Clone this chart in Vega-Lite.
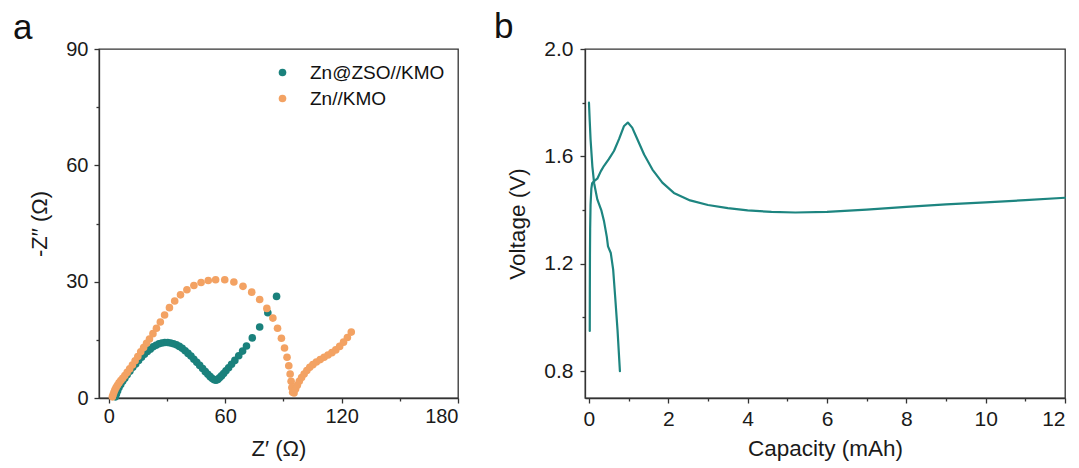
{
  "$schema": "https://vega.github.io/schema/vega-lite/v6.json",
  "padding": {"left": 12, "top": 9, "right": 2, "bottom": 2},
  "background": "white",
  "config": {
    "font": "Liberation Sans",
    "view": {"stroke": "#333333", "strokeWidth": 1.3},
    "axis": {
      "grid": false,
      "domainColor": "#333333",
      "domainWidth": 1.3,
      "tickColor": "#333333",
      "tickWidth": 1.3,
      "labelColor": "#1a1a1a",
      "titleColor": "#1a1a1a",
      "labelFont": "Liberation Sans",
      "titleFont": "Liberation Sans",
      "titleFontWeight": "normal"
    },
    "title": {"fontWeight": "normal", "fontSize": 35, "anchor": "start", "frame": "group", "color": "#111111", "baseline": "alphabetic", "offset": -7}
  },
  "datasets": {
    "eis": [
      {"cell": "Zn@ZSO//KMO", "zr": 3.5, "zi": 0.3},
      {"cell": "Zn@ZSO//KMO", "zr": 4.0, "zi": 1.1},
      {"cell": "Zn@ZSO//KMO", "zr": 4.6, "zi": 1.9},
      {"cell": "Zn@ZSO//KMO", "zr": 5.3, "zi": 2.7},
      {"cell": "Zn@ZSO//KMO", "zr": 6.2, "zi": 3.5},
      {"cell": "Zn@ZSO//KMO", "zr": 7.2, "zi": 4.3},
      {"cell": "Zn@ZSO//KMO", "zr": 8.3, "zi": 5.1},
      {"cell": "Zn@ZSO//KMO", "zr": 9.5, "zi": 6.0},
      {"cell": "Zn@ZSO//KMO", "zr": 10.9, "zi": 6.9},
      {"cell": "Zn@ZSO//KMO", "zr": 12.4, "zi": 7.9},
      {"cell": "Zn@ZSO//KMO", "zr": 13.9, "zi": 8.8},
      {"cell": "Zn@ZSO//KMO", "zr": 15.4, "zi": 9.7},
      {"cell": "Zn@ZSO//KMO", "zr": 16.9, "zi": 10.5},
      {"cell": "Zn@ZSO//KMO", "zr": 18.4, "zi": 11.3},
      {"cell": "Zn@ZSO//KMO", "zr": 19.9, "zi": 12.0},
      {"cell": "Zn@ZSO//KMO", "zr": 21.4, "zi": 12.6},
      {"cell": "Zn@ZSO//KMO", "zr": 22.9, "zi": 13.2},
      {"cell": "Zn@ZSO//KMO", "zr": 24.4, "zi": 13.6},
      {"cell": "Zn@ZSO//KMO", "zr": 25.9, "zi": 14.0},
      {"cell": "Zn@ZSO//KMO", "zr": 27.4, "zi": 14.2},
      {"cell": "Zn@ZSO//KMO", "zr": 28.9, "zi": 14.3},
      {"cell": "Zn@ZSO//KMO", "zr": 30.4, "zi": 14.3},
      {"cell": "Zn@ZSO//KMO", "zr": 31.9, "zi": 14.2},
      {"cell": "Zn@ZSO//KMO", "zr": 33.4, "zi": 14.0},
      {"cell": "Zn@ZSO//KMO", "zr": 34.9, "zi": 13.7},
      {"cell": "Zn@ZSO//KMO", "zr": 36.4, "zi": 13.3},
      {"cell": "Zn@ZSO//KMO", "zr": 37.9, "zi": 12.8},
      {"cell": "Zn@ZSO//KMO", "zr": 39.4, "zi": 12.2},
      {"cell": "Zn@ZSO//KMO", "zr": 40.9, "zi": 11.5},
      {"cell": "Zn@ZSO//KMO", "zr": 42.4, "zi": 10.8},
      {"cell": "Zn@ZSO//KMO", "zr": 43.9, "zi": 10.0},
      {"cell": "Zn@ZSO//KMO", "zr": 45.4, "zi": 9.2},
      {"cell": "Zn@ZSO//KMO", "zr": 46.9, "zi": 8.4},
      {"cell": "Zn@ZSO//KMO", "zr": 48.4, "zi": 7.6},
      {"cell": "Zn@ZSO//KMO", "zr": 49.8, "zi": 6.8},
      {"cell": "Zn@ZSO//KMO", "zr": 51.1, "zi": 6.1},
      {"cell": "Zn@ZSO//KMO", "zr": 52.3, "zi": 5.5},
      {"cell": "Zn@ZSO//KMO", "zr": 53.4, "zi": 5.0},
      {"cell": "Zn@ZSO//KMO", "zr": 54.4, "zi": 4.7},
      {"cell": "Zn@ZSO//KMO", "zr": 55.3, "zi": 4.6},
      {"cell": "Zn@ZSO//KMO", "zr": 56.2, "zi": 4.8},
      {"cell": "Zn@ZSO//KMO", "zr": 57.1, "zi": 5.2},
      {"cell": "Zn@ZSO//KMO", "zr": 58.1, "zi": 5.7},
      {"cell": "Zn@ZSO//KMO", "zr": 59.2, "zi": 6.3},
      {"cell": "Zn@ZSO//KMO", "zr": 60.4, "zi": 7.0},
      {"cell": "Zn@ZSO//KMO", "zr": 61.8, "zi": 7.8},
      {"cell": "Zn@ZSO//KMO", "zr": 63.3, "zi": 8.7},
      {"cell": "Zn@ZSO//KMO", "zr": 65.0, "zi": 9.7},
      {"cell": "Zn@ZSO//KMO", "zr": 67.0, "zi": 10.9},
      {"cell": "Zn@ZSO//KMO", "zr": 69.0, "zi": 12.1},
      {"cell": "Zn@ZSO//KMO", "zr": 71.0, "zi": 13.4},
      {"cell": "Zn@ZSO//KMO", "zr": 74.0, "zi": 15.5},
      {"cell": "Zn@ZSO//KMO", "zr": 77.8, "zi": 18.3},
      {"cell": "Zn@ZSO//KMO", "zr": 82.0, "zi": 22.0},
      {"cell": "Zn@ZSO//KMO", "zr": 86.5, "zi": 26.2},
      {"cell": "Zn//KMO", "zr": 1.9, "zi": 0.3},
      {"cell": "Zn//KMO", "zr": 2.3, "zi": 0.9},
      {"cell": "Zn//KMO", "zr": 2.7, "zi": 1.5},
      {"cell": "Zn//KMO", "zr": 3.2, "zi": 2.1},
      {"cell": "Zn//KMO", "zr": 3.8, "zi": 2.7},
      {"cell": "Zn//KMO", "zr": 4.5, "zi": 3.3},
      {"cell": "Zn//KMO", "zr": 5.3, "zi": 3.9},
      {"cell": "Zn//KMO", "zr": 6.2, "zi": 4.5},
      {"cell": "Zn//KMO", "zr": 7.2, "zi": 5.1},
      {"cell": "Zn//KMO", "zr": 8.3, "zi": 5.8},
      {"cell": "Zn//KMO", "zr": 9.5, "zi": 6.6},
      {"cell": "Zn//KMO", "zr": 10.8, "zi": 7.5},
      {"cell": "Zn//KMO", "zr": 12.2, "zi": 8.5},
      {"cell": "Zn//KMO", "zr": 13.6, "zi": 9.6},
      {"cell": "Zn//KMO", "zr": 15.0, "zi": 10.7},
      {"cell": "Zn//KMO", "zr": 16.5, "zi": 11.9},
      {"cell": "Zn//KMO", "zr": 18.0, "zi": 13.0},
      {"cell": "Zn//KMO", "zr": 19.5, "zi": 14.1},
      {"cell": "Zn//KMO", "zr": 21.0, "zi": 15.2},
      {"cell": "Zn//KMO", "zr": 22.8, "zi": 16.6},
      {"cell": "Zn//KMO", "zr": 24.6, "zi": 18.0},
      {"cell": "Zn//KMO", "zr": 26.6, "zi": 19.6},
      {"cell": "Zn//KMO", "zr": 28.8, "zi": 21.4},
      {"cell": "Zn//KMO", "zr": 31.3, "zi": 23.3},
      {"cell": "Zn//KMO", "zr": 34.0, "zi": 25.0},
      {"cell": "Zn//KMO", "zr": 37.0, "zi": 26.6},
      {"cell": "Zn//KMO", "zr": 40.3, "zi": 27.9},
      {"cell": "Zn//KMO", "zr": 43.9, "zi": 29.0},
      {"cell": "Zn//KMO", "zr": 47.6, "zi": 29.8},
      {"cell": "Zn//KMO", "zr": 51.3, "zi": 30.3},
      {"cell": "Zn//KMO", "zr": 55.1, "zi": 30.5},
      {"cell": "Zn//KMO", "zr": 59.8, "zi": 30.5},
      {"cell": "Zn//KMO", "zr": 64.5, "zi": 29.9},
      {"cell": "Zn//KMO", "zr": 69.2, "zi": 28.8},
      {"cell": "Zn//KMO", "zr": 73.7, "zi": 27.3},
      {"cell": "Zn//KMO", "zr": 77.8, "zi": 25.4},
      {"cell": "Zn//KMO", "zr": 81.5, "zi": 23.1},
      {"cell": "Zn//KMO", "zr": 84.6, "zi": 20.6},
      {"cell": "Zn//KMO", "zr": 87.0, "zi": 18.0},
      {"cell": "Zn//KMO", "zr": 89.0, "zi": 15.4},
      {"cell": "Zn//KMO", "zr": 90.6, "zi": 12.9},
      {"cell": "Zn//KMO", "zr": 91.9, "zi": 10.5},
      {"cell": "Zn//KMO", "zr": 92.8, "zi": 8.3},
      {"cell": "Zn//KMO", "zr": 93.5, "zi": 6.2},
      {"cell": "Zn//KMO", "zr": 94.0, "zi": 4.3},
      {"cell": "Zn//KMO", "zr": 94.4, "zi": 2.7},
      {"cell": "Zn//KMO", "zr": 94.8, "zi": 1.5},
      {"cell": "Zn//KMO", "zr": 95.5, "zi": 1.3},
      {"cell": "Zn//KMO", "zr": 96.3, "zi": 2.3},
      {"cell": "Zn//KMO", "zr": 97.2, "zi": 3.3},
      {"cell": "Zn//KMO", "zr": 98.2, "zi": 4.3},
      {"cell": "Zn//KMO", "zr": 99.4, "zi": 5.3},
      {"cell": "Zn//KMO", "zr": 100.7, "zi": 6.2},
      {"cell": "Zn//KMO", "zr": 102.1, "zi": 7.1},
      {"cell": "Zn//KMO", "zr": 103.6, "zi": 7.9},
      {"cell": "Zn//KMO", "zr": 105.2, "zi": 8.6},
      {"cell": "Zn//KMO", "zr": 107.0, "zi": 9.3},
      {"cell": "Zn//KMO", "zr": 109.0, "zi": 9.9},
      {"cell": "Zn//KMO", "zr": 111.0, "zi": 10.5},
      {"cell": "Zn//KMO", "zr": 113.0, "zi": 11.1},
      {"cell": "Zn//KMO", "zr": 115.0, "zi": 11.7},
      {"cell": "Zn//KMO", "zr": 117.0, "zi": 12.4},
      {"cell": "Zn//KMO", "zr": 119.0, "zi": 13.3},
      {"cell": "Zn//KMO", "zr": 121.0, "zi": 14.4},
      {"cell": "Zn//KMO", "zr": 123.0, "zi": 15.6},
      {"cell": "Zn//KMO", "zr": 125.0, "zi": 17.0}
    ],
    "gcd": [
      {"curve": "discharge", "i": 0, "cap": 0.0, "v": 1.80},
      {"curve": "discharge", "i": 1, "cap": 0.02, "v": 1.73},
      {"curve": "discharge", "i": 2, "cap": 0.04, "v": 1.664},
      {"curve": "discharge", "i": 3, "cap": 0.085, "v": 1.564},
      {"curve": "discharge", "i": 4, "cap": 0.13, "v": 1.50},
      {"curve": "discharge", "i": 5, "cap": 0.21, "v": 1.44},
      {"curve": "discharge", "i": 6, "cap": 0.31, "v": 1.40},
      {"curve": "discharge", "i": 7, "cap": 0.38, "v": 1.358},
      {"curve": "discharge", "i": 8, "cap": 0.45, "v": 1.30},
      {"curve": "discharge", "i": 9, "cap": 0.48, "v": 1.265},
      {"curve": "discharge", "i": 10, "cap": 0.55, "v": 1.24},
      {"curve": "discharge", "i": 11, "cap": 0.61, "v": 1.178},
      {"curve": "discharge", "i": 12, "cap": 0.66, "v": 1.078},
      {"curve": "discharge", "i": 13, "cap": 0.72, "v": 0.953},
      {"curve": "discharge", "i": 14, "cap": 0.78, "v": 0.80},
      {"curve": "charge", "i": 0, "cap": 0.02, "v": 0.95},
      {"curve": "charge", "i": 1, "cap": 0.022, "v": 1.10},
      {"curve": "charge", "i": 2, "cap": 0.025, "v": 1.23},
      {"curve": "charge", "i": 3, "cap": 0.03, "v": 1.33},
      {"curve": "charge", "i": 4, "cap": 0.04, "v": 1.42},
      {"curve": "charge", "i": 5, "cap": 0.06, "v": 1.48},
      {"curve": "charge", "i": 6, "cap": 0.08, "v": 1.50},
      {"curve": "charge", "i": 7, "cap": 0.13, "v": 1.508},
      {"curve": "charge", "i": 8, "cap": 0.21, "v": 1.517},
      {"curve": "charge", "i": 9, "cap": 0.30, "v": 1.545},
      {"curve": "charge", "i": 10, "cap": 0.38, "v": 1.565},
      {"curve": "charge", "i": 11, "cap": 0.50, "v": 1.590},
      {"curve": "charge", "i": 12, "cap": 0.63, "v": 1.620},
      {"curve": "charge", "i": 13, "cap": 0.76, "v": 1.665},
      {"curve": "charge", "i": 14, "cap": 0.88, "v": 1.712},
      {"curve": "charge", "i": 15, "cap": 0.98, "v": 1.726},
      {"curve": "charge", "i": 16, "cap": 1.09, "v": 1.707},
      {"curve": "charge", "i": 17, "cap": 1.22, "v": 1.664},
      {"curve": "charge", "i": 18, "cap": 1.39, "v": 1.607},
      {"curve": "charge", "i": 19, "cap": 1.60, "v": 1.551},
      {"curve": "charge", "i": 20, "cap": 1.85, "v": 1.502},
      {"curve": "charge", "i": 21, "cap": 2.14, "v": 1.464},
      {"curve": "charge", "i": 22, "cap": 2.55, "v": 1.436},
      {"curve": "charge", "i": 23, "cap": 3.0, "v": 1.419},
      {"curve": "charge", "i": 24, "cap": 3.5, "v": 1.407},
      {"curve": "charge", "i": 25, "cap": 4.0, "v": 1.399},
      {"curve": "charge", "i": 26, "cap": 4.6, "v": 1.393},
      {"curve": "charge", "i": 27, "cap": 5.2, "v": 1.391},
      {"curve": "charge", "i": 28, "cap": 6.0, "v": 1.393},
      {"curve": "charge", "i": 29, "cap": 7.0, "v": 1.402},
      {"curve": "charge", "i": 30, "cap": 8.0, "v": 1.412},
      {"curve": "charge", "i": 31, "cap": 9.0, "v": 1.421},
      {"curve": "charge", "i": 32, "cap": 10.0, "v": 1.429},
      {"curve": "charge", "i": 33, "cap": 11.0, "v": 1.437},
      {"curve": "charge", "i": 34, "cap": 12.0, "v": 1.446}
    ]
  },
  "bounds": "flush",
  "spacing": 127,
  "hconcat": [
    {
      "title": {"text": "a", "dx": -86},
      "width": 359,
      "height": 349,
      "data": {"name": "eis"},
      "layer": [
        {
          "mark": {"type": "point", "filled": true, "size": 58, "opacity": 1},
          "encoding": {
            "x": {
              "field": "zr", "type": "quantitative",
              "scale": {"domain": [-5, 180], "nice": false, "zero": false},
              "axis": {"orient": "bottom", "values": [0, 60, 120, 180], "title": "Z′ (Ω)", "labelFontSize": 20, "titleFontSize": 22, "tickSize": 5, "labelPadding": 3, "titlePadding": 12}
            },
            "y": {
              "field": "zi", "type": "quantitative",
              "scale": {"domain": [0, 90], "nice": false, "zero": false},
              "axis": {"orient": "left", "values": [0, 30, 60, 90], "title": "-Z′′ (Ω)", "labelFontSize": 20, "titleFontSize": 22, "tickSize": 5, "labelPadding": 6, "titlePadding": 14}
            },
            "color": {
              "field": "cell", "type": "nominal",
              "scale": {"domain": ["Zn@ZSO//KMO", "Zn//KMO"], "range": ["#1a817c", "#f3a263"]},
              "legend": {"orient": "none", "legendX": 174, "legendY": 14, "title": null, "padding": 0, "labelFontSize": 19, "labelColor": "#111111", "labelOffset": 18, "symbolSize": 58, "symbolType": "circle", "symbolStrokeWidth": 0, "rowPadding": 6}
            }
          }
        },
        {
          "mark": {"type": "point", "opacity": 0},
          "encoding": {
            "x": {
              "field": "zr", "type": "quantitative",
              "axis": {"orient": "bottom", "values": [30, 90, 150], "labels": false, "domain": false, "title": null, "tickSize": 3}
            },
            "y": {
              "field": "zi", "type": "quantitative",
              "axis": {"orient": "left", "values": [15, 45, 75], "labels": false, "domain": false, "title": null, "tickSize": 3}
            }
          }
        }
      ],
      "resolve": {"axis": {"x": "independent", "y": "independent"}}
    },
    {
      "title": {"text": "b", "dx": -91},
      "width": 480,
      "height": 349,
      "data": {"name": "gcd"},
      "layer": [
        {
          "mark": {"type": "line", "color": "#1d8580", "strokeWidth": 2.2, "strokeJoin": "round", "strokeCap": "round"},
          "encoding": {
            "x": {
              "field": "cap", "type": "quantitative",
              "scale": {"domain": [-0.1, 12], "nice": false, "zero": false},
              "axis": {"orient": "bottom", "values": [0, 2, 4, 6, 8, 10, 12], "title": "Capacity (mAh)", "labelFontSize": 21, "titleFontSize": 22.5, "tickSize": 5, "labelPadding": 5, "titlePadding": 8}
            },
            "y": {
              "field": "v", "type": "quantitative",
              "scale": {"domain": [0.7, 2.0], "nice": false, "zero": false},
              "axis": {"orient": "left", "values": [0.8, 1.2, 1.6, 2.0], "format": ".1f", "title": "Voltage (V)", "labelFontSize": 21, "titleFontSize": 22.5, "tickSize": 5, "labelPadding": 7, "titlePadding": 14}
            },
            "detail": {"field": "curve", "type": "nominal"},
            "order": {"field": "i", "type": "quantitative"}
          }
        },
        {
          "mark": {"type": "point", "opacity": 0},
          "encoding": {
            "x": {
              "field": "cap", "type": "quantitative",
              "axis": {"orient": "bottom", "values": [1, 3, 5, 7, 9, 11], "labels": false, "domain": false, "title": null, "tickSize": 3}
            },
            "y": {
              "field": "v", "type": "quantitative",
              "axis": {"orient": "left", "values": [1.0, 1.4, 1.8], "labels": false, "domain": false, "title": null, "tickSize": 3}
            }
          }
        }
      ],
      "resolve": {"axis": {"x": "independent", "y": "independent"}}
    }
  ]
}
